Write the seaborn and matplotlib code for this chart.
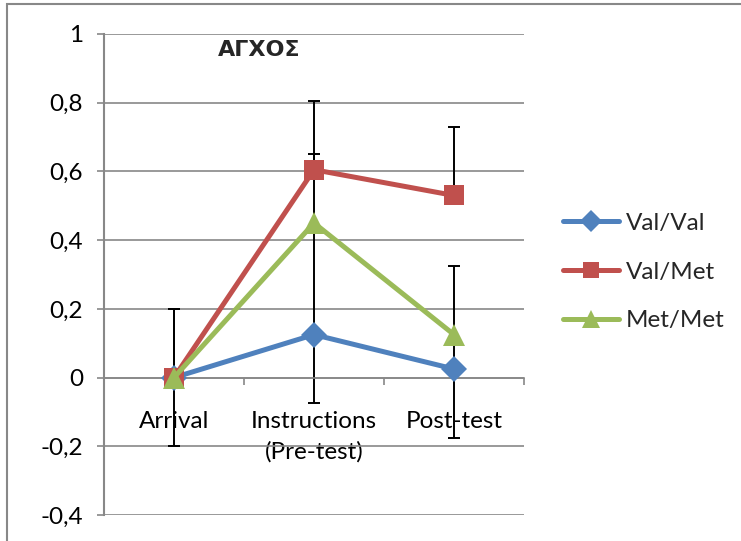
import matplotlib
matplotlib.use("Agg")
import matplotlib.pyplot as plt
import numpy as np
import pandas as pd
import seaborn as sns
from matplotlib.lines import Line2D
from matplotlib.patches import Rectangle

# ---- data -------------------------------------------------------------
stages = ["Arrival", "Instructions\n(Pre-test)", "Post-test"]
groups = ["Val/Val", "Val/Met", "Met/Met"]

val_val = [0.0, 0.125, 0.025]
val_met = [0.0, 0.605, 0.53]
met_met = [0.0, 0.45, 0.125]

# error bar lengths below / above each point
val_val_err_lo = [0.2, 0.2, 0.2]
val_val_err_hi = [0.0, 0.0, 0.0]
val_met_err_lo = [0.0, 0.0, 0.0]
val_met_err_hi = [0.2, 0.2, 0.2]
met_met_err_lo = [0.0, 0.325, 0.1]
met_met_err_hi = [0.2, 0.2, 0.2]

y_ticks = [-0.4, -0.2, 0.0, 0.2, 0.4, 0.6, 0.8, 1.0]
y_tick_labels = ["-0,4", "-0,2", "0", "0,2", "0,4", "0,6", "0,8", "1"]

title = "ΑΓΧΟΣ"

# ---- style ------------------------------------------------------------
colors = ["#4F81BD", "#C0504D", "#9BBB59"]
markers = ["D", "s", "^"]
marker_sizes = [13, 14, 16]
grey = "#888888"

sns.set_theme(style="white")
plt.rcParams["font.family"] = ["Lato", "DejaVu Sans"]
FS = 17.5

values = [val_val, val_met, met_met]
errs_lo = [val_val_err_lo, val_met_err_lo, met_met_err_lo]
errs_hi = [val_val_err_hi, val_met_err_hi, met_met_err_hi]

df = pd.DataFrame({
    "stage": np.tile(stages, len(groups)),
    "group": np.repeat(groups, len(stages)),
    "value": np.concatenate(values),
})

fig = plt.figure(figsize=(7.41, 5.41), dpi=100)
ax = fig.add_axes([104 / 741, 1 - 515 / 541, 420 / 741, 481 / 541])

x_pos = np.arange(len(stages))

# error bars sit underneath the lines and markers
for vals, lo, hi in zip(values, errs_lo, errs_hi):
    ax.errorbar(x_pos, vals, yerr=[lo, hi], fmt="none", ecolor="black",
                elinewidth=1.4, capsize=4.5, capthick=1.4, zorder=2)

sns.lineplot(data=df, x="stage", y="value", hue="group", style="group",
             hue_order=groups, style_order=groups, palette=colors,
             markers=dict(zip(groups, markers)), dashes=False, sort=False,
             linewidth=3.6, markeredgewidth=0, ax=ax, legend=False, zorder=3)
for line, ms in zip(ax.get_lines()[-3:], marker_sizes):
    line.set_markersize(ms)

# ---- axes -------------------------------------------------------------
ax.set_ylim(-0.4, 1.0)
ax.set_xlim(-0.5, 2.5)
ax.set_yticks(y_ticks)
ax.set_yticklabels(y_tick_labels, fontsize=FS, color="black")
ax.yaxis.grid(True, color=grey, linewidth=1.2)
ax.set_axisbelow(True)
ax.tick_params(axis="y", direction="out", length=5, width=1.2, color=grey,
               pad=10, left=True)

ax.spines["top"].set_visible(False)
ax.spines["right"].set_visible(False)
ax.spines["left"].set_color(grey)
ax.spines["left"].set_linewidth(1.5)
ax.spines["bottom"].set_position(("data", 0))
ax.spines["bottom"].set_color(grey)
ax.spines["bottom"].set_linewidth(1.2)

ax.set_xticks([-0.5, 0.5, 1.5, 2.5])
ax.set_xticklabels([])
ax.set_xticks(x_pos, minor=True)
ax.set_xticklabels(stages, minor=True, fontsize=FS, color="black",
                   linespacing=1.55)
ax.tick_params(axis="x", which="major", direction="out", length=5,
               width=1.2, color=grey, bottom=True)
ax.tick_params(axis="x", which="minor", length=0, pad=24)
ax.set_xlabel("")
ax.set_ylabel("")

fig.text(259.5 / 741, 1 - 50.5 / 541, title, ha="center", va="center",
         fontsize=16, fontweight="bold", family="DejaVu Sans")

handles = [Line2D([0], [0], color=c, lw=3.6, marker=m, markersize=ms * 0.85,
                  markeredgewidth=0)
           for c, m, ms in zip(colors, markers, marker_sizes)]
fig.legend(handles, groups, loc="center left",
           bbox_to_anchor=(563 / 741, 1 - 272 / 541), frameon=False,
           fontsize=FS, handlelength=2.3, handletextpad=0.3,
           labelspacing=1.15, borderpad=0, borderaxespad=0)

# chart-area border
fig.patches.append(Rectangle((7 / 741, -0.5), 5, 0.5 + 1 - 4 / 541,
                             transform=fig.transFigure, fill=False,
                             edgecolor=grey, linewidth=1.5))

fig.savefig("out.png", dpi=100)
